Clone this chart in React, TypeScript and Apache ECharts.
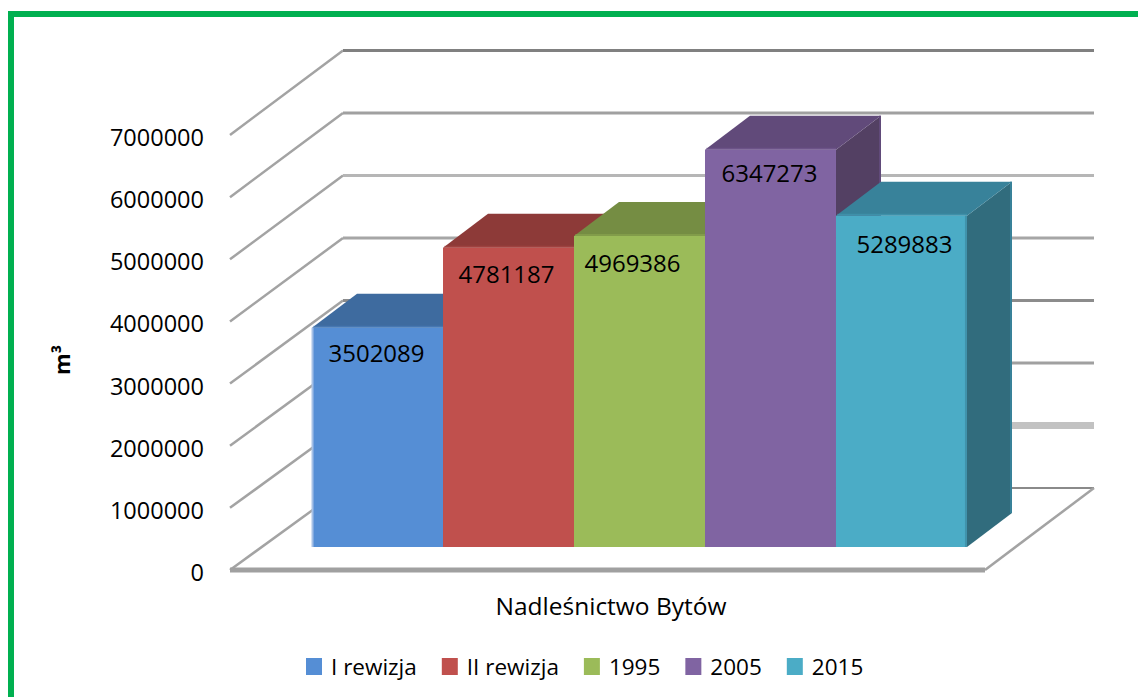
import React, { useEffect, useRef } from "react";
import * as echarts from "echarts";

const categories = ["Nadleśnictwo Bytów"];
const seriesNames = ["I rewizja", "II rewizja", "1995", "2005", "2015"];
const seriesValues = [3502089, 4781187, 4969386, 6347273, 5289883];
const frontColors = ["#558ed5", "#c0504d", "#9bbb59", "#8064a2", "#4bacc6"];
const topColors = ["#3e6b9f", "#8d3a38", "#758d43", "#614a7a", "#38829a"];
const sideColors = ["#335a86", "#77302e", "#627638", "#534063", "#316c7d"];
const labelNudgeX = [0, -1, -6, 0, 4];
const labelNudgeY = [-2, -1, 0, -4, 1];
const wallTicks = [0, 1000000, 2000000, 3000000, 4000000, 5000000, 6000000, 7000000];
const wallColors = ["#8a8a8a", "#c2c2c2", "#a0a0a0", "#8c8c8c", "#a6a6a6", "#b6b6b6", "#a0a0a0", "#808080"];
const wallWidths = [2, 7, 3, 3, 3, 3, 3, 3];

const FONT = "'Open Sans', sans-serif";
const DEPTH_X = 113;
const DEPTH_RIGHT = 109;
const BACK_BASE_DROP = 82;
const BACK_SCALE = 62.5 / 62.14;
const BAR_SHIFT_X = 32;
const BAR_SHIFT_Y = 23;
const BAR_DX = 45;
const BAR_DY = 34;
const BAR_SCALE = 62.6 / 62.14;
const BAR_BAND = 0.1735;

export default function App() {
  const ref = useRef<HTMLDivElement>(null);
  useEffect(() => {
    document.body.style.margin = "0";
    const chart = echarts.init(ref.current!, undefined, { renderer: "svg" });

    const wallSeries = {
      type: "custom",
      name: "walls",
      silent: true,
      clip: false,
      z: 1,
      encode: { x: 0, y: 1 },
      data: wallTicks.map((v, i) => [0, v, i]),
      renderItem: (params: any, api: any) => {
        const i = api.value(2);
        const cs = params.coordSys;
        const x0 = cs.x;
        const y0 = cs.y + cs.height;
        const y = api.coord([0, api.value(1)])[1];
        const yBack = y0 - BACK_BASE_DROP - (y0 - y) * BACK_SCALE;
        const xBack = x0 + DEPTH_X;
        const xEnd = x0 + cs.width + DEPTH_RIGHT;
        const children: any[] = [
          {
            type: "line",
            shape: { x1: x0, y1: y, x2: xBack, y2: yBack },
            style: { stroke: "#a3a3a3", lineWidth: 2.5 },
          },
          {
            type: "line",
            shape: { x1: xBack, y1: yBack, x2: xEnd, y2: yBack },
            style: { stroke: wallColors[i], lineWidth: wallWidths[i] },
          },
        ];
        if (i === 0) {
          children.push(
            {
              type: "line",
              shape: { x1: x0, y1: y0, x2: x0 + cs.width, y2: y0 },
              style: { stroke: "#a0a0a0", lineWidth: 5 },
            },
            {
              type: "line",
              shape: { x1: x0 + cs.width, y1: y0, x2: xEnd, y2: yBack },
              style: { stroke: "#a3a3a3", lineWidth: 2.5 },
            }
          );
        }
        return { type: "group", children };
      },
    };

    const barSeries = seriesNames.map((name, idx) => ({
      type: "custom",
      name,
      silent: true,
      clip: false,
      z: 2 + idx,
      itemStyle: { color: frontColors[idx] },
      encode: { x: 0, y: 1 },
      data: [[0, seriesValues[idx]]],
      renderItem: (_params: any, api: any) => {
        const band = api.size([1, 0])[0];
        const w = band * BAR_BAND;
        const base = api.coord([0, 0]);
        const top = api.coord([0, api.value(1)]);
        const x = base[0] - (w * seriesNames.length) / 2 + idx * w + BAR_SHIFT_X;
        const yb = base[1] - BAR_SHIFT_Y;
        const yt = yb - (base[1] - top[1]) * BAR_SCALE;
        const children: any[] = [
          {
            type: "polygon",
            shape: { points: [[x + w, yt], [x + w + BAR_DX, yt - BAR_DY], [x + w + BAR_DX, yb - BAR_DY], [x + w, yb]] },
            style: { fill: sideColors[idx] },
          },
          {
            type: "line",
            shape: { x1: x + w + BAR_DX - 1, y1: yt - BAR_DY, x2: x + w + BAR_DX - 1, y2: yb - BAR_DY },
            style: { stroke: topColors[idx], lineWidth: 2 },
          },
          {
            type: "polygon",
            shape: { points: [[x, yt], [x + BAR_DX, yt - BAR_DY], [x + w + BAR_DX, yt - BAR_DY], [x + w, yt]] },
            style: { fill: topColors[idx] },
          },
          {
            type: "rect",
            shape: { x, y: yt, width: w, height: yb - yt },
            style: { fill: frontColors[idx] },
          },
          {
            type: "line",
            shape: { x1: x + 1, y1: yt - 1, x2: x + w, y2: yt - 1 },
            style: { stroke: frontColors[idx], opacity: 0.35, lineWidth: 2 },
          },
        ];
        if (idx === seriesNames.length - 1) {
          children.push({
            type: "line",
            shape: { x1: x + w - 1, y1: yt, x2: x + w - 1, y2: yb },
            style: { stroke: topColors[idx], opacity: 0.6, lineWidth: 2 },
          });
        }
        if (idx === 0) {
          children.push({
            type: "line",
            shape: { x1: x + 0.5, y1: yt, x2: x + 0.5, y2: yb },
            style: { stroke: "#a5c0e6", lineWidth: 2 },
          });
        }
        children.push({
          type: "text",
          x: x + w / 2 - 1 + labelNudgeX[idx],
          y: yt + 27 + labelNudgeY[idx],
          style: {
            text: String(seriesValues[idx]),
            fill: "#000",
            font: `24px ${FONT}`,
            align: "center",
            verticalAlign: "middle",
          },
        });
        return { type: "group", children };
      },
    }));

    chart.setOption({
      animation: false,
      backgroundColor: "#fff",
      grid: { left: 230, right: 153, top: 135, bottom: 127, containLabel: false },
      graphic: [
        { type: "rect", shape: { x: 8, y: 11, width: 1130, height: 6 }, style: { fill: "#00b050" } },
        { type: "rect", shape: { x: 8, y: 11, width: 6, height: 686 }, style: { fill: "#00b050" } },
      ],
      legend: {
        data: seriesNames,
        left: 306,
        top: 655,
        itemWidth: 16,
        itemHeight: 17,
        itemGap: 25,
        icon: "rect",
        padding: 0,
        textStyle: { fontFamily: FONT, fontSize: 22.5, color: "#000", padding: [0, 0, 0, 4] },
      },
      xAxis: {
        type: "category",
        data: categories,
        axisLine: { show: false },
        axisTick: { show: false },
        axisLabel: { margin: 23, color: "#000", fontFamily: FONT, fontSize: 24.5, padding: [0, 0, 0, 7] },
      },
      yAxis: {
        type: "value",
        min: 0,
        max: 7000000,
        interval: 1000000,
        name: "m³",
        nameLocation: "middle",
        nameGap: 158,
        nameTextStyle: { color: "#000", fontFamily: FONT, fontSize: 22, fontWeight: "bold", padding: [0, 15, 0, 0] },
        axisLine: { show: false },
        axisTick: { show: false },
        splitLine: { show: false },
        axisLabel: {
          margin: 26,
          color: "#000",
          fontFamily: FONT,
          fontSize: 23.5,
          verticalAlign: "top",
          lineHeight: 4,
          formatter: (v: number) => String(v),
        },
      },
      series: [wallSeries, ...barSeries],
    });
    return () => chart.dispose();
  }, []);
  return <div ref={ref} style={{ position: "fixed", left: 0, top: 0, width: 1138, height: 697 }} />;
}
